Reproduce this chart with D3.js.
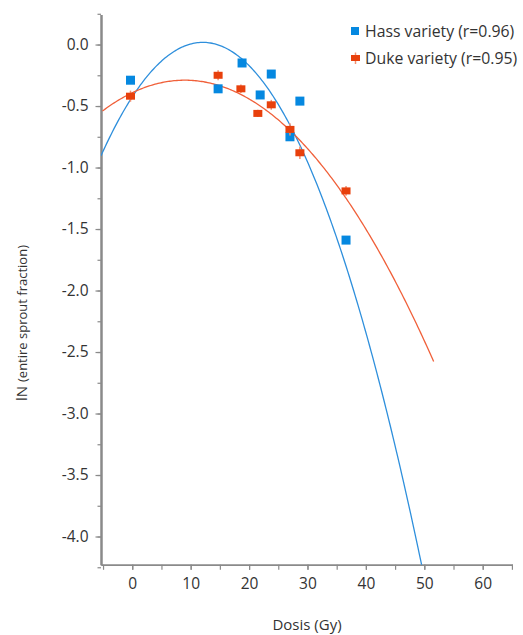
<!DOCTYPE html>
<html><head><meta charset="utf-8">
<script src="https://cdn.jsdelivr.net/npm/d3@7"></script>
<style>
html,body{margin:0;padding:0;background:#fff;}
svg{display:block;font-family:"Open Sans","Noto Sans",sans-serif;}
</style></head>
<body>
<svg id="chart" width="523" height="635"></svg>
<script>
// Data
const hassDose = [-0.3, 14.7, 18.8, 21.9, 23.8, 27.0, 28.7, 36.6];
const hassLn   = [-0.29, -0.36, -0.15, -0.41, -0.24, -0.75, -0.46, -1.59];
const dukeDose = [-0.3, 14.7, 18.6, 21.5, 23.8, 27.0, 28.7, 36.6];
const dukeLn   = [-0.42, -0.25, -0.36, -0.56, -0.49, -0.69, -0.88, -1.19];
const dukeErr  = [0.045, 0.04, 0.035, 0.03, 0.04, 0.05, 0.05, 0.04];
// Quadratic fit coefficients [c0, c1, c2] and x-range of each fitted curve
const hassFit = [-0.4256, 0.0733, -0.00303];
const hassFitRange = [-5.35, 49.9];
const dukeFit = [-0.392, 0.02268, -0.00126];
const dukeFitRange = [-5.1, 51.6];
const xTicks = [0, 10, 20, 30, 40, 50, 60];
const yTicks = [0.0, -0.5, -1.0, -1.5, -2.0, -2.5, -3.0, -3.5, -4.0];
const legendLabels = ["Hass variety (r=0.96)", "Duke variety (r=0.95)"];

const blue = "#0588e0", red = "#e8400c";
const blueLine = "#2e8fdc", redLine = "#f0603a", errColor = "#f39070";
const FONT = "'Open Sans', 'Noto Sans', sans-serif";

const svg = d3.select("#chart");
const x = d3.scaleLinear().domain([-5.35, 65.1]).range([101, 512.5]);
const y = d3.scaleLinear().domain([-4.23, 0.245]).range([564.8, 14.4]);

svg.append("defs").append("clipPath").attr("id","plot")
  .append("rect").attr("x",101).attr("y",14.4).attr("width",412).attr("height",550.4);

// Axes
const axisColor = "#8a8a8a", textColor = "#333";
const gx = svg.append("g").attr("transform","translate(0,564.8)");
gx.call(d3.axisBottom(x).tickValues(d3.range(-5, 66, 5)).tickFormat("").tickSize(5).tickSizeOuter(0));
const gx2 = svg.append("g").attr("transform","translate(0,564.8)");
gx2.call(d3.axisBottom(x).tickValues(xTicks).tickFormat(d3.format("d")).tickSize(5).tickPadding(8).tickSizeOuter(0));
[gx,gx2].forEach(g=>{
  g.select(".domain").attr("stroke",axisColor).attr("stroke-width",1.5);
  g.selectAll(".tick line").attr("stroke",axisColor).attr("stroke-width",1.2);
  g.selectAll("text").attr("fill",textColor).attr("font-size",15.5).attr("font-family",FONT);
});

const gy = svg.append("g").attr("transform","translate(101,0)");
gy.call(d3.axisLeft(y).tickValues(d3.range(0.25, -4.3, -0.25)).tickFormat("").tickSize(3.5).tickSizeOuter(0));
const gy2 = svg.append("g").attr("transform","translate(101,0)");
gy2.call(d3.axisLeft(y).tickValues(yTicks).tickFormat(d3.format(".1f")).tickSize(5.5).tickPadding(7).tickSizeOuter(0));
[gy,gy2].forEach(g=>{
  g.select(".domain").attr("stroke",axisColor).attr("stroke-width",2);
  g.selectAll(".tick line").attr("stroke",axisColor).attr("stroke-width",1.2);
  g.selectAll("text").attr("fill",textColor).attr("font-size",15.5).attr("font-family",FONT);
});
gy2.selectAll("text").text(d => d3.format(".1f")(d).replace("−","-"));

// Axis titles
svg.append("text").attr("x",307).attr("y",630).attr("text-anchor","middle")
  .attr("fill",textColor).attr("font-size",15).text("Dosis (Gy)");
const yt = svg.append("text").attr("transform","translate(27,323) rotate(-90)").attr("text-anchor","middle")
  .attr("fill",textColor).attr("font-size",13);
yt.append("tspan").attr("font-size",15).text("lN ");
yt.append("tspan").text("(entire sprout fraction)");

// Fitted curves
function curvePts(c, r){
  return d3.range(r[0], r[1] + 0.001, 0.25).concat([r[1]]).map(v => [v, c[0] + c[1]*v + c[2]*v*v]);
}
const line = d3.line().x(d=>x(d[0])).y(d=>y(d[1]));
const plot = svg.append("g").attr("clip-path","url(#plot)");
plot.append("path").attr("d", line(curvePts(hassFit, hassFitRange)))
  .attr("fill","none").attr("stroke",blueLine).attr("stroke-width",1.3);
plot.append("path").attr("d", line(curvePts(dukeFit, dukeFitRange)))
  .attr("fill","none").attr("stroke",redLine).attr("stroke-width",1.3);

// Hass points
svg.append("g").selectAll("rect").data(hassDose.map((d,i)=>[d,hassLn[i]])).join("rect")
  .attr("x",d=>x(d[0])-4.5).attr("y",d=>y(d[1])-4.5).attr("width",9).attr("height",9).attr("fill",blue);

// Duke points with error bars
const duke = dukeDose.map((d,i)=>[d,dukeLn[i],dukeErr[i]]);
const gd = svg.append("g");
gd.selectAll("line").data(duke).join("line")
  .attr("x1",d=>x(d[0])).attr("x2",d=>x(d[0]))
  .attr("y1",d=>y(d[1]+d[2])).attr("y2",d=>y(d[1]-d[2]))
  .attr("stroke",errColor).attr("stroke-width",1.5);
gd.selectAll("rect").data(duke).join("rect")
  .attr("x",d=>x(d[0])-4.5).attr("y",d=>y(d[1])-3.5).attr("width",9).attr("height",7).attr("fill",red);

// Legend
const lg = svg.append("g");
lg.append("rect").attr("x",351).attr("y",27).attr("width",8).attr("height",8).attr("fill",blue);
lg.append("line").attr("x1",355.5).attr("x2",355.5).attr("y1",52.5).attr("y2",64).attr("stroke",errColor).attr("stroke-width",1.5);
lg.append("rect").attr("x",351).attr("y",55).attr("width",9).attr("height",6).attr("fill",red);
lg.selectAll("text").data(legendLabels).join("text")
  .attr("x",365).attr("y",(d,i)=>36.5+i*27).attr("fill",textColor).attr("font-size",15.8).text(d=>d);
</script>
</body></html>
